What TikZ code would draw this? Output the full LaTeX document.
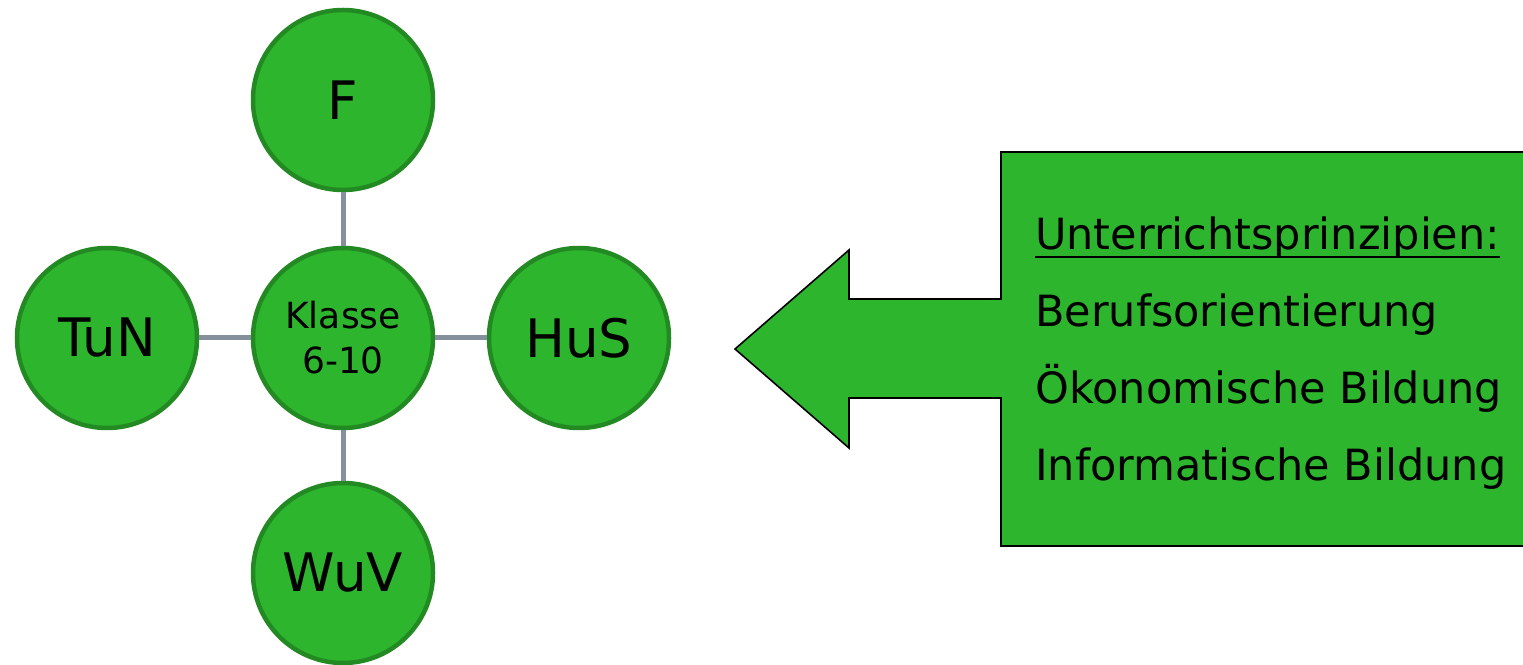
\documentclass[tikz,border=0pt]{standalone}
\usepackage{fontspec}
\setmainfont{DejaVu Sans}
\definecolor{leaf}{HTML}{2EB52E}
\definecolor{leafdark}{HTML}{238A23}
\definecolor{linkgray}{HTML}{84909B}
\begin{document}
\begin{tikzpicture}[x=1pt,y=1pt,
  topic/.style={circle,draw=leafdark,fill=leaf,line width=4.5pt,minimum size=180pt,inner sep=0pt,
    font=\fontsize{53}{62}\selectfont},
  hub/.style={topic,font=\fontsize{36}{45}\selectfont,align=center},
  link/.style={draw=linkgray,line width=5pt},
  item/.style={anchor=base west,inner sep=0pt,font=\fontsize{43}{50}\selectfont}]
\useasboundingbox (0,0) rectangle (1523,664);
% arrow + box
\draw[fill=leaf,draw=black,line width=1.6pt,line join=miter]
  (1001,512) -- (1540,512) -- (1540,118) -- (1001,118) -- (1001,266) -- (849,266)
  -- (849,216) -- (735,315) -- (849,414) -- (849,365) -- (1001,365) -- cycle;
% circles
\node[hub] (k) at (343,326) {Klasse\\6-10};
\node[topic] (f) at (343,564) {F};
\node[topic] (t) at (107,326) {TuN};
\node[topic] (h) at (579,326) {HuS};
\node[topic] (w) at (343,91) {WuV};
\draw[link] (k) -- (f);
\draw[link] (k) -- (t);
\draw[link] (k) -- (h);
\draw[link] (k) -- (w);
% texts
\node[item] (u) at (1035,414) {Unterrichtsprinzipien:};
\draw[line width=2pt] ([yshift=-7pt]u.base west) -- ([yshift=-7pt]u.base east);
\node[item] (b) at (1035,337) {Berufsorientierung};
\node[item] (o) at (1035,260) {Ökonomische Bildung};
\node[item] (i) at (1035,183) {Informatische Bildung};
\end{tikzpicture}
\end{document}
